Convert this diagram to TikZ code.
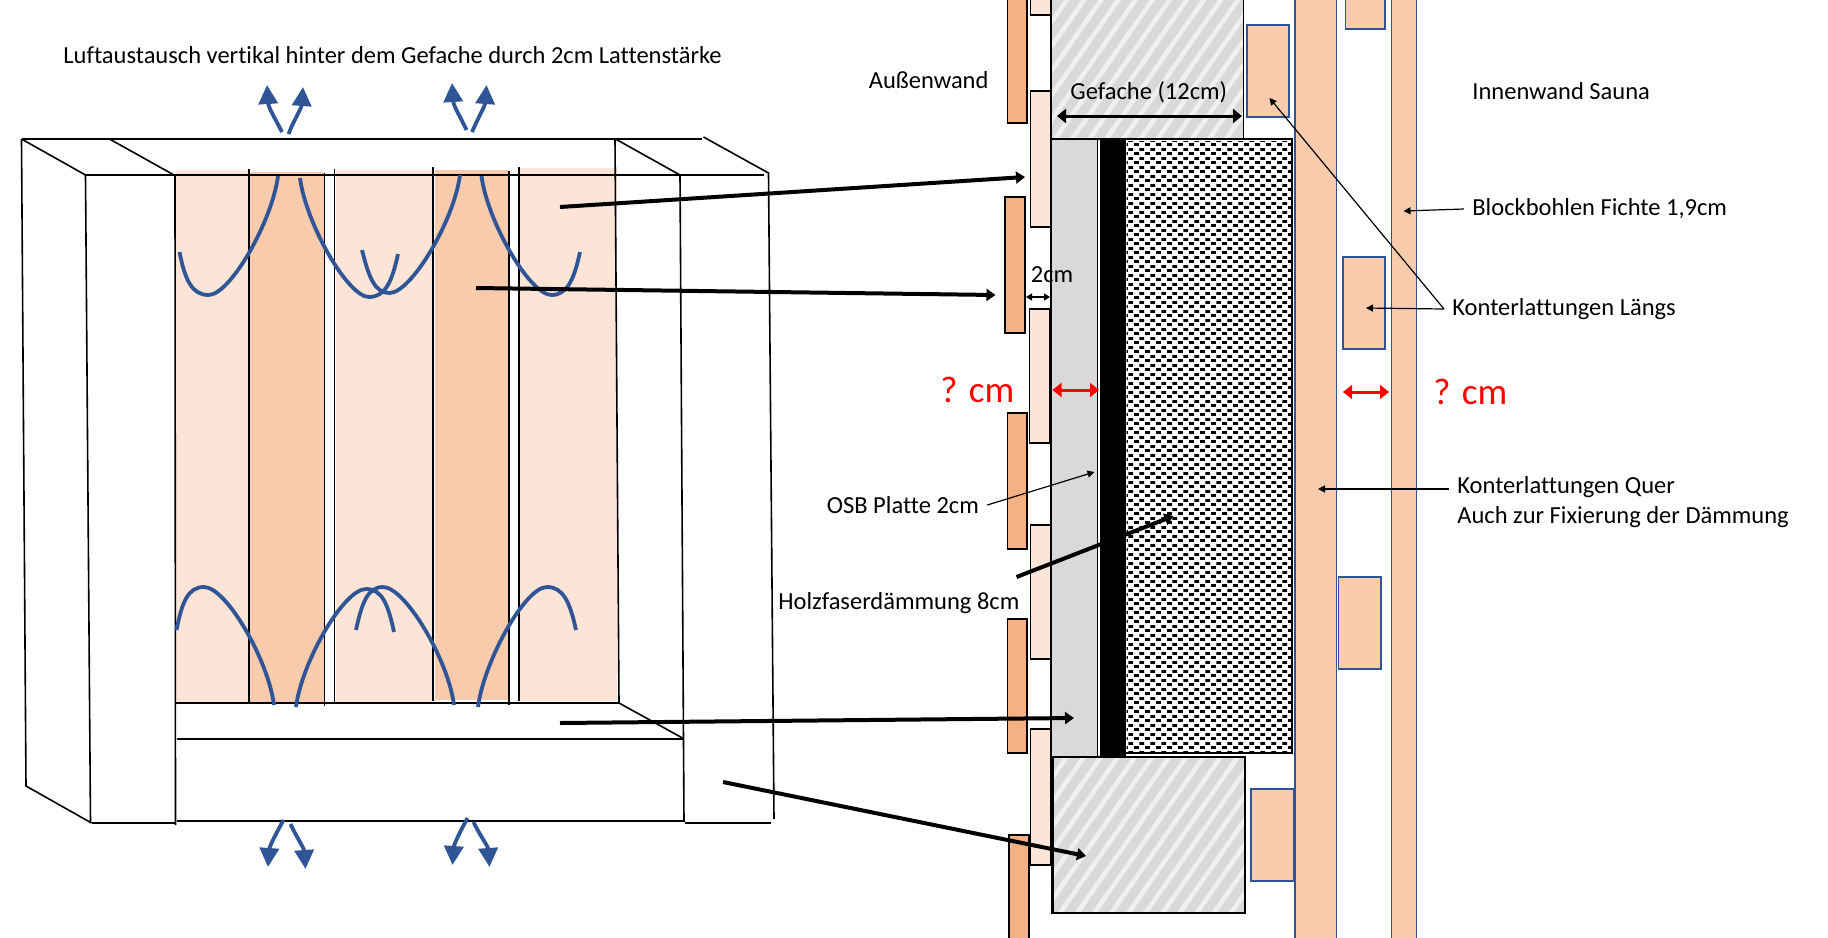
\documentclass[tikz,border=0pt]{standalone}
\usepackage{fontspec}
\setmainfont[Ligatures=NoCommon]{Carlito}
\usetikzlibrary{arrows.meta,patterns.meta}
\definecolor{palewood}{HTML}{FCE4D6}
\definecolor{midwood}{HTML}{F8CBAD}
\definecolor{darkwood}{HTML}{F4B183}
\definecolor{airblue}{HTML}{2F5597}
\definecolor{osbgray}{HTML}{D9D9D9}
\definecolor{hatchlight}{HTML}{F0F0F0}
\pgfdeclarepatternformonly{woolspeck}{\pgfpointorigin}{\pgfqpoint{5.4pt}{4.3pt}}{\pgfqpoint{5.4pt}{4.3pt}}{
  \pgfpathrectangle{\pgfqpoint{0pt}{0pt}}{\pgfqpoint{2.5pt}{1.5pt}}
  \pgfpathrectangle{\pgfqpoint{2.7pt}{2.15pt}}{\pgfqpoint{2.5pt}{1.5pt}}
  \pgfusepath{fill}}
\tikzstyle{frameline}=[draw=black,line width=0.8pt]
\tikzstyle{frameedge}=[draw=black,line width=1.1pt]
\tikzstyle{pale}=[fill=palewood]
\tikzstyle{mid}=[fill=midwood]
\tikzstyle{outerlath}=[fill=darkwood,draw=black,line width=0.9pt]
\tikzstyle{innerlath}=[fill=palewood,draw=black,line width=0.9pt]
\tikzstyle{bluelath}=[fill=midwood,draw=airblue,line width=0.9pt]
\tikzstyle{bluewall}=[fill=midwood,draw=airblue,line width=0.6pt]
\tikzstyle{timber}=[fill=osbgray]
\tikzstyle{timberhatch}=[pattern={Lines[angle=55,distance=7pt,line width=2.3pt]},pattern color=hatchlight]
\tikzstyle{airflow}=[draw=airblue,line width=1.9pt]
\tikzstyle{airout}=[airflow,-{Triangle[length=9.5pt,width=9.5pt]}]
\tikzstyle{leader}=[draw=black,line width=2pt,-{Triangle[length=4.5pt,width=6pt]}]
\tikzstyle{pointer}=[draw=black,line width=0.6pt,-{Triangle[length=3.5pt,width=3.5pt]}]
\tikzstyle{span}=[draw=black,line width=1.5pt,{Triangle[length=4.5pt,width=7pt]}-{Triangle[length=4.5pt,width=7pt]}]
\tikzstyle{smallspan}=[draw=black,line width=0.6pt,{Triangle[length=3pt,width=3.5pt]}-{Triangle[length=3pt,width=3.5pt]}]
\tikzstyle{redspan}=[draw=red,line width=1.5pt,{Triangle[length=4.5pt,width=7pt]}-{Triangle[length=4.5pt,width=7pt]}]
\tikzstyle{lbl}=[anchor=west,inner sep=4pt,font=\fontsize{12.25}{15.2}\selectfont,align=left]
\tikzstyle{redlbl}=[anchor=west,inner sep=4pt,text=red,font=\fontsize{18.6}{20}\selectfont]

\begin{document}
\begin{tikzpicture}[x=0.5pt,y=-0.5pt]
  \useasboundingbox (0,0) rectangle (1828,938);

  % panels behind the wall
  \fill[pale] (175.5,170) rectangle (248,702);
  \fill[mid] (249.5,172) rectangle (325,702);
  \fill[pale] (336,170) rectangle (431.5,702);
  \fill[mid] (435,170) rectangle (508.5,700);
  \fill[pale] (519.5,168) rectangle (617,701);

  % frame of the wall
  \draw[frameedge] (21.5,139) -- (702,139);
  \draw[frameedge] (85.5,175) -- (763.5,175);
  \draw[frameline] (21.5,139) -- (26,786) -- (91.5,823);
  \draw[frameline] (21.5,139) -- (85.5,175) -- (90.5,823);
  \draw[frameline] (109.5,139) -- (174,175);
  \draw[frameedge] (91.5,823) -- (175.5,823);
  \draw[frameline] (175,175) -- (175.5,825);
  \draw[frameline] (615,139) -- (619,703) -- (682.5,738);
  \draw[frameline] (615.5,139) -- (680,175) -- (684,822);
  \draw[frameline] (703.5,137) -- (768.5,173) -- (774,819);
  \draw[frameedge] (175,703) -- (619,703);
  \draw[frameedge] (176.5,739) -- (682.5,739);
  \draw[frameedge] (176.5,821) -- (683,821);
  \draw[frameedge] (685,823) -- (770.5,823);

  % studs
  \draw[frameline] (249,169) -- (249,703);
  \draw[frameline] (324.5,173) -- (324.5,706);
  \draw[frameline] (334.5,169) -- (334.5,703);
  \draw[frameline] (433,167) -- (433,701);
  \draw[frameline] (509,171) -- (509,705);
  \draw[frameline] (519,167) -- (519,701);

  % air paths
  \draw[airflow] (278,176) .. controls (272,222) and (230,295) .. (208.5,295) .. controls (192,295) and (185,280) .. (179.5,252);
  \draw[airflow] (300,178) .. controls (306,224) and (348,297) .. (369,297) .. controls (385,297) and (392,282) .. (398,254);
  \draw[airflow] (460,175) .. controls (454,221) and (411,293) .. (389.5,293) .. controls (375,293) and (369,278) .. (362,250);
  \draw[airflow] (481.5,176) .. controls (487.5,222) and (530,295) .. (551.5,295) .. controls (567,295) and (574,280) .. (580,252);
  \draw[airflow] (274,705) .. controls (268,659) and (226,587) .. (204,587) .. controls (188,587) and (182,602) .. (176.5,630);
  \draw[airflow] (296,707) .. controls (302,661) and (344,589) .. (366,589) .. controls (382,589) and (388,604) .. (394,632);
  \draw[airflow] (454,705) .. controls (448,659) and (405,587) .. (383,587) .. controls (368,587) and (362,602) .. (356,630);
  \draw[airflow] (478,707) .. controls (484,661) and (525,587) .. (547,587) .. controls (563,587) and (570,602) .. (576,630);

  \draw[airout] (282,132) .. controls (276,120) and (268.5,108) .. (267,85);
  \draw[airout] (288.5,134) .. controls (294,120) and (301.5,108) .. (303,87);
  \draw[airout] (466.5,130) .. controls (461,118) and (453.5,106) .. (452,83);
  \draw[airout] (472,132) .. controls (478,118) and (485,106) .. (486.5,85);
  \draw[airout] (283.5,820) .. controls (277,832) and (269.5,846) .. (268,867);
  \draw[airout] (290.5,824) .. controls (296,836) and (304,848) .. (305.5,869);
  \draw[airout] (467.5,818) .. controls (461,830) and (454,844) .. (452.5,865);
  \draw[airout] (473.5,822) .. controls (479,834) and (488,846) .. (489.5,867);

  % wall section
  \draw[bluewall] (1295,-5) rectangle (1336.5,943);
  \draw[bluewall] (1391.5,-5) rectangle (1416.5,943);
  \fill[timber] (1051,-5) rectangle (1243.5,139);
  \fill[timberhatch] (1051,-5) rectangle (1243.5,139);
  \draw[black,line width=0.9pt] (1243.5,-5) -- (1243.5,139);
  \fill[osbgray] (1051,139) rectangle (1097,757);
  \draw[black,line width=0.4pt] (1097,139) -- (1097,757);
  \fill[black] (1099.8,139) rectangle (1126,757);
  \fill[pattern=woolspeck] (1126.5,141) rectangle (1291,752);
  \draw[black,line width=0.9pt] (1051,139) -- (1292,139) -- (1292,753) -- (1126,753);
  \draw[black,line width=0.9pt] (1051,-5) -- (1051,757);
  \fill[timber] (1052.5,757) rectangle (1245,913);
  \fill[timberhatch] (1052.5,757) rectangle (1245,913);
  \draw[black,line width=1.1pt] (1052.5,757) rectangle (1245,913);

  \draw[bluelath] (1345.5,-5) rectangle (1385,29);
  \draw[bluelath] (1247,25) rectangle (1289,117);
  \draw[bluelath] (1343,257) rectangle (1385,349);
  \draw[bluelath] (1338.5,577) rectangle (1381,669);
  \draw[bluelath] (1251,789) rectangle (1293.5,881);

  \draw[outerlath] (1007.5,-5) rectangle (1027,123);
  \draw[outerlath] (1005,197) rectangle (1025,333);
  \draw[outerlath] (1007.5,413) rectangle (1027,549);
  \draw[outerlath] (1007.5,619) rectangle (1027,753);
  \draw[outerlath] (1009,835) rectangle (1029,943);

  \draw[innerlath] (1030.5,-5) rectangle (1051,15);
  \draw[innerlath] (1030.5,91) rectangle (1051,227);
  \draw[innerlath] (1029.5,309) rectangle (1050,443);
  \draw[innerlath] (1030.5,525) rectangle (1051,659);
  \draw[innerlath] (1030.5,729) rectangle (1051,865);

  % labels
  \node (lufttext) at (55,55) [lbl]{Luftaustausch vertikal hinter dem Gefache durch 2cm Lattenstärke};
  \node (aussen) at (860.5,80) [lbl]{Außenwand};
  \node (gefache) at (1062,92) [lbl]{Gefache (12cm)};
  \node (sauna) at (1464,91) [lbl]{Innenwand Sauna};
  \node (block) at (1464,209) [lbl]{Blockbohlen Fichte 1,9cm};
  \node (laengs) at (1444,309) [lbl]{Konterlattungen Längs};
  \node (twocm) at (1022.5,275) [lbl]{2cm};
  \node (osb) at (818.5,505) [lbl]{OSB Platte 2cm};
  \node (holz) at (770,603) [lbl]{Holzfaserdämmung 8cm};
  \node (quer) at (1449,502) [lbl]{Konterlattungen Quer\\Auch zur Fixierung der Dämmung};
  \node (qleft) at (932,390) [redlbl]{? cm};
  \node (qright) at (1425,392) [redlbl]{? cm};

  % connectors
  \coordinate (fromtop) at (560,207);
  \coordinate (toinner) at (1025,177);
  \coordinate (frommid) at (476,288);
  \coordinate (toouter) at (995.5,295);
  \coordinate (frombase) at (560,723);
  \coordinate (toosb) at (1074,718);
  \coordinate (fromcol) at (723,782);
  \coordinate (totimber) at (1086,856);
  \coordinate (fromholz) at (1016.5,577);
  \coordinate (towool) at (1173.5,516);
  \coordinate (toosbthin) at (1094.5,472);
  \coordinate (toboard) at (1403.5,211);
  \coordinate (tolaths) at (1366,308);
  \coordinate (tolatht) at (1269.5,98);
  \coordinate (toquer) at (1318,489);
  \coordinate (gefl) at (1057,116);
  \coordinate (gefr) at (1242,116);
  \coordinate (gapl) at (1026,297);
  \coordinate (gapr) at (1050,297);
  \coordinate (redal) at (1052.5,390);
  \coordinate (redar) at (1099,390);
  \coordinate (redbl) at (1343,392);
  \coordinate (redbr) at (1389,392);

  \draw[leader] (fromtop) -- (toinner);
  \draw[leader] (frommid) -- (toouter);
  \draw[leader] (frombase) -- (toosb);
  \draw[leader] (fromcol) -- (totimber);
  \draw[leader] (fromholz) -- (towool);
  \draw[pointer] (osb.east) -- (toosbthin);
  \draw[pointer] (block.west) -- (toboard);
  \draw[pointer] (laengs.west) -- (tolaths);
  \draw[pointer] (laengs.west) -- (tolatht);
  \draw[pointer] (quer.west |- toquer) -- (toquer);
  \draw[span] (gefl) -- (gefr);
  \draw[smallspan] (gapl) -- (gapr);
  \draw[redspan] (redal) -- (redar);
  \draw[redspan] (redbl) -- (redbr);
\end{tikzpicture}
\end{document}
